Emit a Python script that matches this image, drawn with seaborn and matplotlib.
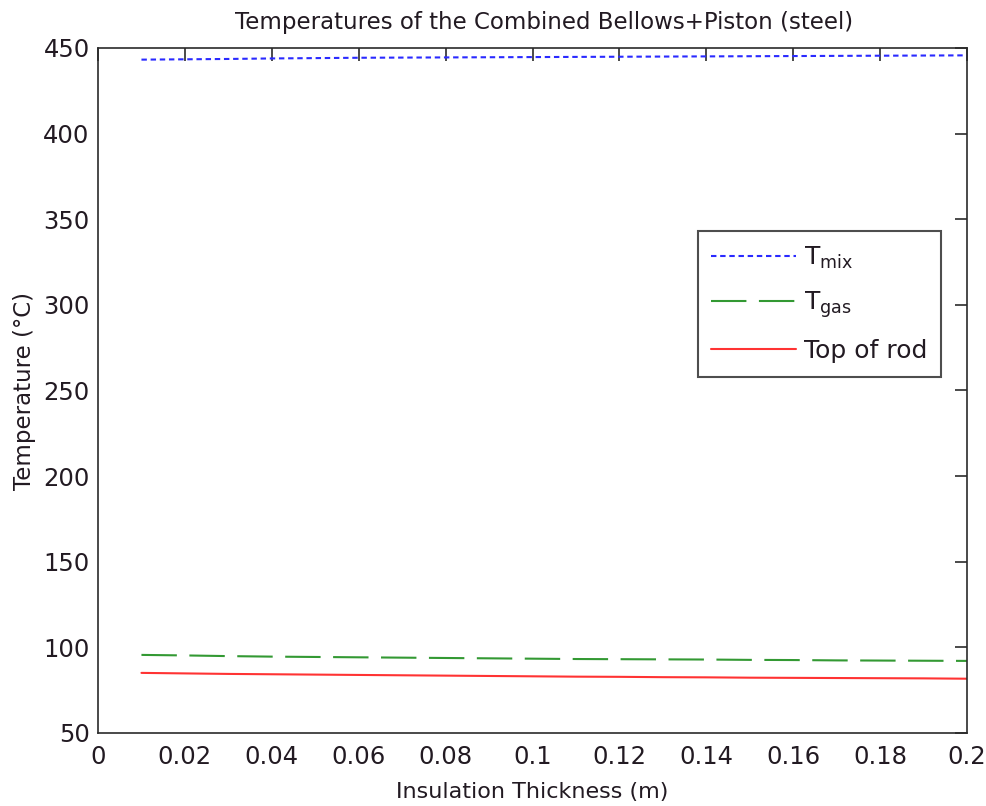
import matplotlib
matplotlib.use("Agg")
import matplotlib.pyplot as plt
import seaborn as sns
import pandas as pd

# Data
thickness = [0.01, 0.02, 0.03, 0.04, 0.05, 0.06, 0.07, 0.08, 0.09, 0.10,
             0.11, 0.12, 0.13, 0.14, 0.15, 0.16, 0.17, 0.18, 0.19, 0.20]
t_mix = [443.2, 443.4, 443.6, 443.9, 444.1, 444.3, 444.4, 444.5, 444.6, 444.7,
         444.8, 444.9, 445.0, 445.1, 445.2, 445.3, 445.4, 445.5, 445.6, 445.7]
t_gas = [95.6, 95.3, 94.9, 94.6, 94.4, 94.2, 94.0, 93.8, 93.6, 93.4,
         93.2, 93.1, 93.0, 92.9, 92.7, 92.6, 92.4, 92.3, 92.2, 92.1]
t_rod = [85.1, 84.8, 84.5, 84.3, 84.1, 83.9, 83.7, 83.5, 83.3, 83.1,
         82.9, 82.8, 82.6, 82.5, 82.3, 82.2, 82.1, 82.0, 81.9, 81.7]
series_labels = ["T$_{mix}$", "T$_{gas}$", "Top of rod"]
x_ticks = [0, 0.02, 0.04, 0.06, 0.08, 0.1, 0.12, 0.14, 0.16, 0.18, 0.2]
x_ticklabels = ["0", "0.02", "0.04", "0.06", "0.08", "0.1", "0.12", "0.14", "0.16", "0.18", "0.2"]
y_ticks = [50, 100, 150, 200, 250, 300, 350, 400, 450]

sns.set_style("white")
plt.rcParams["font.family"] = ["DejaVu Sans"]
plt.rcParams["mathtext.default"] = "regular"
txt = "#221a22"

fig = plt.figure(figsize=(9.87, 8.06), dpi=100)
ax = fig.add_axes([98/987, 73/806, 869/987, 685/806])

lw = 1.5
colors = ["#2a2aff", "#339933", "#ff3333"]
dashes = [(2.6, 1.8), (17, 6), None]
for ys, lab, c, d in zip([t_mix, t_gas, t_rod], series_labels, colors, dashes):
    sns.lineplot(x=thickness, y=ys, ax=ax, color=c, linewidth=lw, label=lab)
    line = ax.lines[-1]
    if d is not None:
        line.set_dashes(d)

ax.set_xlim(0, 0.2)
ax.set_ylim(50, 450)
ax.set_xticks(x_ticks)
ax.set_xticklabels(x_ticklabels)
ax.set_yticks(y_ticks)
for s in ax.spines.values():
    s.set_color("#2b2b2b")
    s.set_linewidth(1.2)
ax.tick_params(direction="in", length=9, width=1.2, color="#2b2b2b",
               labelsize=17.5, labelcolor=txt, top=True, right=True)
ax.tick_params(axis="x", pad=9)
ax.tick_params(axis="y", pad=6)
ax.set_xlabel("Insulation Thickness (m)", fontsize=16, color=txt, labelpad=9)
ax.set_ylabel("Temperature (°C)", fontsize=16.5, color=txt, labelpad=5)
ax.set_title("Temperatures of the Combined Bellows+Piston (steel)", fontsize=16.5,
             color=txt, pad=14, x=0.513)

leg = ax.legend(loc="upper left", bbox_to_anchor=(0.69, 0.733), fontsize=18,
                frameon=True, fancybox=False, edgecolor="#222222",
                handlelength=3.4, handletextpad=0.3, labelspacing=0.75,
                borderpad=0.55, borderaxespad=0)
leg.get_frame().set_linewidth(1.5)
for t in leg.get_texts():
    t.set_color(txt)

fig.savefig("out.png", dpi=100)
